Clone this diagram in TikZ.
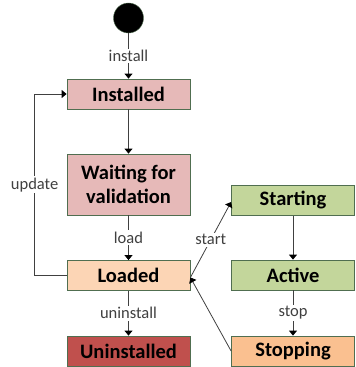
\documentclass[tikz,border=0pt]{standalone}
\usepackage{fontspec}
\setmainfont{Carlito}
\usepackage{xcolor}
\usetikzlibrary{positioning,calc,arrows.meta}

\definecolor{rimcol}{RGB}{80,110,80}
\definecolor{pinkfill}{RGB}{230,185,184}
\definecolor{peachfill}{RGB}{252,213,181}
\definecolor{redfill}{RGB}{192,80,77}
\definecolor{greenfill}{RGB}{195,214,155}
\definecolor{orangefill}{RGB}{250,192,144}
\definecolor{wirecol}{RGB}{64,64,64}

\begin{document}
\begin{tikzpicture}[x=1pt,y=-1pt,
    statebox/.style={draw=rimcol,line width=0.8pt,minimum width=123pt,minimum height=30pt,
        inner sep=0pt,align=center,font=\fontsize{20.5}{24}\selectfont\bfseries},
    wire/.style={draw=wirecol,line width=0.8pt,-{Triangle[width=8pt,length=5pt,color=black]}},
    lbl/.style={fill=white,inner sep=1.5pt,text=wirecol,font=\fontsize{16.5}{18}\selectfont}]
    \useasboundingbox (0,0) rectangle (356,367);

    \node[circle,fill=black,draw=rimcol,minimum size=30pt,inner sep=0pt] (init) at (128.5,18) {};

    \node[statebox,fill=pinkfill] (installed) at (128.5,94) {Installed};
    \node[statebox,fill=pinkfill,minimum height=61pt] (waiting) at (128.5,184.5) {Waiting for\\validation};
    \node[statebox,fill=peachfill] (loaded) at (128.5,275.5) {Loaded};
    \node[statebox,fill=redfill] (uninstalled) at (128.5,351) {Uninstalled};

    \node[statebox,fill=greenfill] (starting) at (293,200.5) {Starting};
    \node[statebox,fill=greenfill] (active) at (293,275) {Active};
    \node[statebox,fill=orangefill] (stopping) at (293,351) {Stopping};

    \draw[wire] (init) -- node[lbl] {install} (installed);
    \draw[wire] (installed) -- (waiting);
    \draw[wire] (waiting) -- node[lbl] {load} (loaded);
    \draw[wire] (loaded) -- node[lbl] {uninstall} (uninstalled);
    \draw[wire] (loaded.west) -- ++(-32,0) |- node[lbl,pos=0.25] {update} (installed.west); % back loop

    \draw[wire] ($(loaded.east)+(0,2)$) -- node[lbl] {start} ($(starting.west)+(0,1.5)$);
    \draw[wire] (starting) -- (active);
    \draw[wire] (active) -- node[lbl] {stop} (stopping);
    \draw[wire] (stopping.west) -- ($(loaded.east)+(0,2)$);
\end{tikzpicture}
\end{document}
